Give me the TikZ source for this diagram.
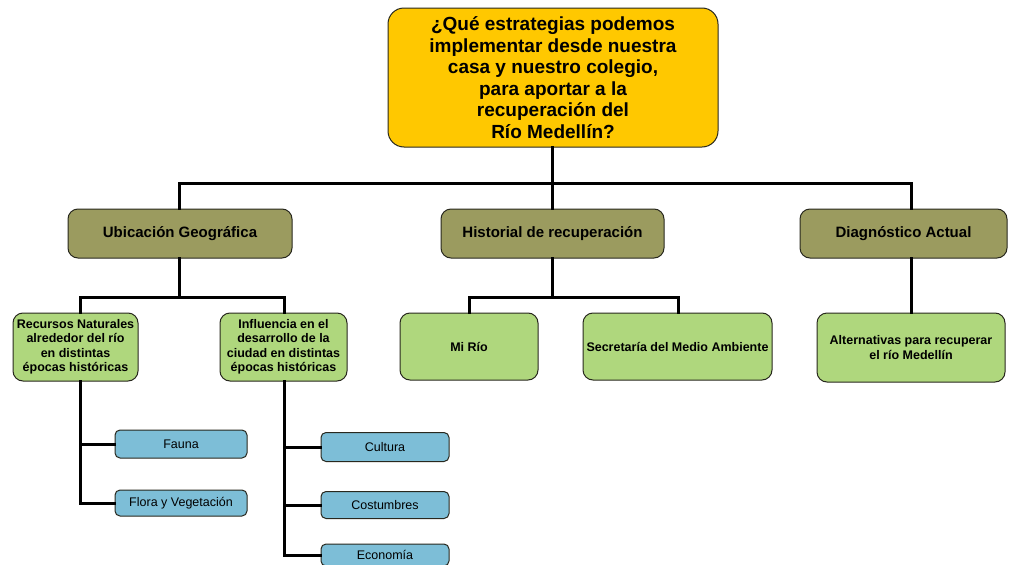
\documentclass[tikz,border=0pt]{standalone}
\usepackage{fontspec}
\setmainfont{Liberation Sans}
\definecolor{gold}{RGB}{255,200,0}
\definecolor{olive}{RGB}{155,155,95}
\definecolor{lgreen}{RGB}{175,215,125}
\definecolor{lblue}{RGB}{125,190,215}
\definecolor{bord}{RGB}{40,40,30}
\begin{document}
\begin{tikzpicture}[x=1pt,y=-1pt,
  box/.style={draw=bord,line width=1pt,rounded corners=8pt,align=center,inner sep=0pt},
  topbox/.style={box,fill=gold,rounded corners=16pt,font=\fontsize{19}{21.5}\selectfont\bfseries},
  lvtwo/.style={box,fill=olive,rounded corners=10pt,font=\fontsize{15}{17}\selectfont\bfseries},
  lvthree/.style={box,fill=lgreen,rounded corners=10pt,font=\fontsize{12.5}{14.5}\selectfont\bfseries},
  lvfour/.style={box,fill=lblue,rounded corners=5pt,font=\fontsize{12.5}{14}\selectfont},
  conn/.style={line width=3pt,line cap=rect}]
\useasboundingbox (0,0) rectangle (1010,565);
\fill[white] (0,0) rectangle (1010,565);
% branch coordinates
\coordinate (h0) at (552,183);
\coordinate (hu) at (179,297);
\coordinate (hh) at (552,297);
\coordinate (rv) at (80,503);
\coordinate (ev) at (284,555);
\coordinate (iv) at (284,297);
\coordinate (dv) at (911,183);
\coordinate (mv) at (469,297);
\coordinate (sv) at (678,297);
% nodes
\node[topbox,minimum width=330pt,minimum height=139pt] (top) at (553,77.5)
  {¿Qué estrategias podemos\\implementar desde nuestra\\casa y nuestro colegio,\\para aportar a la\\recuperación del\\Río Medellín?};
\node[lvtwo,minimum width=224pt,minimum height=49pt] (ub) at (180,233.5) {Ubicación Geográfica};
\node[lvtwo,minimum width=223pt,minimum height=49pt] (hi) at (552.5,233.5) {Historial de recuperación};
\node[lvtwo,minimum width=207pt,minimum height=49pt] (di) at (903.5,233.5) {Diagnóstico Actual};
\node[lvthree,minimum width=125pt,minimum height=68pt] (re) at (75.5,347)
  {Recursos Naturales\\alrededor del río\\en distintas\\épocas históricas};
\node[lvthree,minimum width=127pt,minimum height=68pt] (in) at (283.5,347)
  {Influencia en el\\desarrollo de la\\ciudad en distintas\\épocas históricas};
\node[lvthree,minimum width=138pt,minimum height=67pt] (mi) at (469,346.5) {Mi Río};
\node[lvthree,minimum width=189pt,minimum height=67pt] (se) at (677.5,346.5) {Secretaría del Medio Ambiente};
\node[lvthree,minimum width=188pt,minimum height=69pt] (al) at (911,347.5) {Alternativas para recuperar\\el río Medellín};
\node[lvfour,minimum width=132pt,minimum height=28pt] (fa) at (181,444) {Fauna};
\node[lvfour,minimum width=132pt,minimum height=26pt] (fl) at (181,503) {Flora y Vegetación};
\node[lvfour,minimum width=128pt,minimum height=29pt] (cu) at (385,447) {Cultura};
\node[lvfour,minimum width=128pt,minimum height=27pt] (co) at (385,505) {Costumbres};
\node[lvfour,minimum width=128pt,minimum height=22pt] (ec) at (385,555) {Economía};
% connectors
\draw[conn] (h0 |- top.south) -- (h0);
\draw[conn] (hu |- ub.north) |- (h0) -| (dv |- di.north);
\draw[conn] (h0 |- hi.north) -- (h0);
\draw[conn] (hu |- ub.south) -- (hu);
\draw[conn] (rv |- re.north) |- (hu) -| (iv |- in.north);
\draw[conn] (hh |- hi.south) -- (hh);
\draw[conn] (mv |- mi.north) |- (hh) -| (sv |- se.north);
\draw[conn] (dv |- di.south) -- (dv |- al.north);
\draw[conn] (rv |- re.south) -- (rv);
\draw[conn] (rv |- fa.west) -- (fa.west);
\draw[conn] (rv) -- (fl.west);
\draw[conn] (ev |- in.south) -- (ev);
\draw[conn] (ev |- cu.west) -- (cu.west);
\draw[conn] (ev |- co.west) -- (co.west);
\draw[conn] (ev) -- (ec.west);
\end{tikzpicture}
\end{document}
